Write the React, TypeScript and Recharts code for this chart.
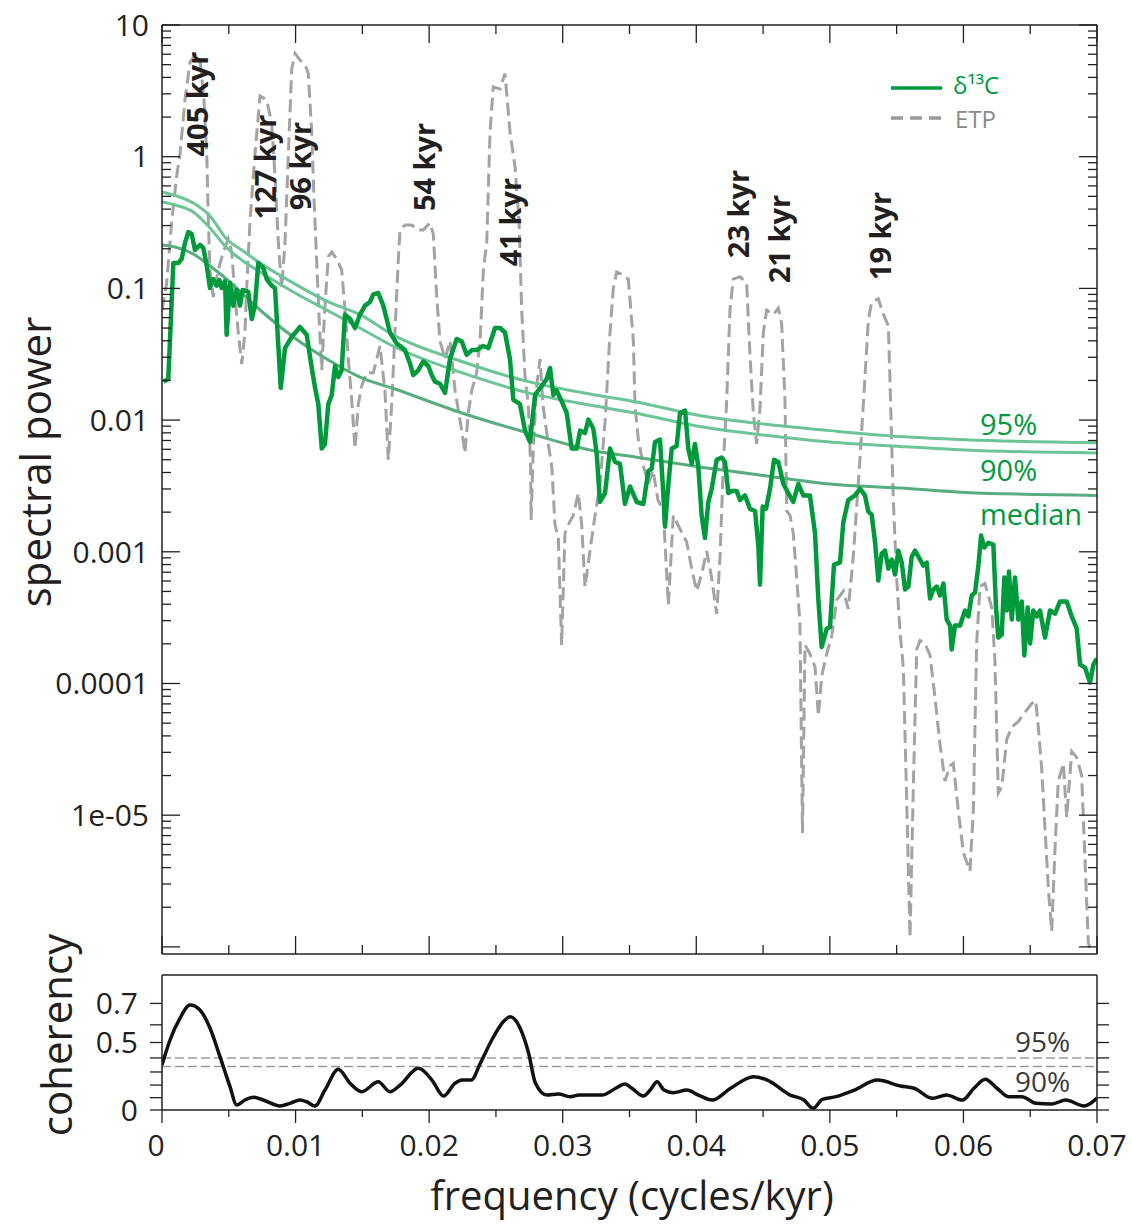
import { LineChart, Line, XAxis, YAxis, ReferenceLine, ReferenceDot } from 'recharts'

const INK = '#231f20'
const GREEN = '#009a3d'
const BAND = '#6cc497'
const BAND_MEDIAN = '#58ad80'
const ETP_GREY = '#a3a3a3'
const FONT = "'Open Sans', 'Noto Sans', sans-serif"

// [frequency (cycles/kyr), log10 spectral power]
const d13cSpectrum: [number, number][] = [
    [0.0001, -1.708], [0.00047, -1.688], [0.00085, -0.807], [0.00122, -0.807], [0.00147, -0.777],
    [0.00172, -0.655], [0.00197, -0.572], [0.00222, -0.587], [0.00247, -0.708], [0.00285, -0.67],
    [0.00309, -0.693], [0.00335, -0.826], [0.00359, -0.997], [0.00384, -0.929], [0.0041, -0.979],
    [0.00429, -0.936], [0.00447, -0.997], [0.00472, -0.944], [0.00484, -1.352], [0.00509, -0.959],
    [0.00534, -1.131], [0.00559, -1.012], [0.00584, -1.131], [0.00604, -1.012], [0.00646, -1.027],
    [0.00672, -1.232], [0.00696, -1.131], [0.00721, -0.807], [0.00758, -0.844], [0.00784, -0.929],
    [0.00821, -0.979], [0.00846, -0.997], [0.00871, -1.437], [0.00889, -1.756], [0.00921, -1.453],
    [0.00971, -1.369], [0.01033, -1.293], [0.01083, -1.352], [0.01121, -1.604], [0.01146, -1.756],
    [0.0117, -1.878], [0.01196, -2.216], [0.0122, -2.181], [0.01245, -1.878], [0.01271, -1.809],
    [0.01295, -1.589], [0.0132, -1.673], [0.01345, -1.62], [0.0137, -1.199], [0.01408, -1.232],
    [0.01445, -1.301], [0.01482, -1.199], [0.0152, -1.131], [0.01557, -1.103], [0.01582, -1.046],
    [0.01619, -1.035], [0.01657, -1.131], [0.01707, -1.335], [0.01757, -1.42], [0.01782, -1.437],
    [0.01819, -1.468], [0.01857, -1.572], [0.01881, -1.658], [0.01919, -1.62], [0.01956, -1.555],
    [0.01994, -1.589], [0.02019, -1.658], [0.02044, -1.708], [0.02081, -1.724], [0.02119, -1.793],
    [0.02156, -1.536], [0.02206, -1.384], [0.02244, -1.402], [0.02281, -1.504], [0.02319, -1.468],
    [0.02356, -1.468], [0.02406, -1.437], [0.02443, -1.453], [0.02493, -1.301], [0.02531, -1.301],
    [0.02568, -1.335], [0.02605, -1.536], [0.0263, -1.844], [0.0268, -1.878], [0.02718, -2.08],
    [0.02755, -2.166], [0.02793, -1.809], [0.02843, -1.741], [0.0288, -1.688], [0.02905, -1.604],
    [0.0293, -1.809], [0.02955, -1.775], [0.02993, -1.86], [0.0303, -1.946], [0.03067, -2.216],
    [0.03105, -2.216], [0.0313, -2.08], [0.03167, -2.098], [0.03192, -1.996], [0.03229, -2.064],
    [0.03254, -2.25], [0.03279, -2.622], [0.03317, -2.554], [0.03354, -2.216], [0.03392, -2.318],
    [0.03429, -2.333], [0.03466, -2.637], [0.03504, -2.504], [0.03554, -2.622], [0.03604, -2.637],
    [0.03641, -2.387], [0.03666, -2.369], [0.03691, -2.166], [0.03728, -2.148], [0.03753, -2.554],
    [0.03766, -2.809], [0.03791, -2.485], [0.03816, -2.216], [0.03853, -2.197], [0.03878, -1.946],
    [0.03916, -1.928], [0.0394, -2.216], [0.03966, -2.333], [0.0399, -2.181], [0.04015, -2.352],
    [0.0404, -2.724], [0.04065, -2.895], [0.0409, -2.622], [0.04115, -2.523], [0.04153, -2.301],
    [0.0419, -2.284], [0.04215, -2.318], [0.0424, -2.554], [0.04265, -2.538], [0.04303, -2.538],
    [0.04327, -2.607], [0.04365, -2.572], [0.04402, -2.674], [0.0444, -2.69], [0.04465, -2.962],
    [0.04477, -3.25], [0.04497, -2.657], [0.04522, -2.674], [0.04552, -2.521], [0.04582, -2.301],
    [0.04614, -2.318], [0.04652, -2.485], [0.04689, -2.554], [0.04726, -2.622], [0.04764, -2.485],
    [0.04801, -2.572], [0.04851, -2.572], [0.04889, -2.86], [0.04914, -3.366], [0.04939, -3.723],
    [0.04976, -3.586], [0.05001, -3.571], [0.05031, -3.097], [0.05076, -3.08], [0.05101, -2.774],
    [0.05138, -2.607], [0.05188, -2.572], [0.05226, -2.521], [0.05263, -2.572], [0.05288, -2.695],
    [0.05313, -2.718], [0.05338, -2.923], [0.05363, -3.218], [0.05388, -3.014], [0.05413, -2.991],
    [0.05438, -3.128], [0.05463, -3.059], [0.05488, -3.173], [0.05513, -2.991], [0.05538, -3.082],
    [0.05563, -3.286], [0.05588, -3.264], [0.05613, -3.036], [0.05638, -2.991], [0.05663, -3.036],
    [0.057, -3.105], [0.05725, -3.082], [0.0575, -3.355], [0.05775, -3.286], [0.058, -3.264],
    [0.05825, -3.332], [0.0585, -3.241], [0.05875, -3.514], [0.059, -3.56], [0.05912, -3.742],
    [0.05937, -3.56], [0.05975, -3.56], [0.06012, -3.446], [0.06037, -3.491], [0.06062, -3.332],
    [0.06087, -3.309], [0.06112, -3.105], [0.06132, -2.877], [0.06156, -2.968], [0.06186, -2.932],
    [0.06224, -2.945], [0.06244, -3.423], [0.06261, -3.651], [0.06287, -3.628], [0.06306, -3.195],
    [0.06324, -3.446], [0.06341, -3.15], [0.06362, -3.514], [0.06386, -3.195], [0.06411, -3.514],
    [0.06437, -3.377], [0.06456, -3.787], [0.06481, -3.423], [0.06499, -3.696], [0.06523, -3.446],
    [0.06549, -3.491], [0.06573, -3.446], [0.06611, -3.651], [0.06648, -3.446], [0.06686, -3.469],
    [0.06723, -3.377], [0.06773, -3.377], [0.06811, -3.491], [0.06848, -3.582], [0.06873, -3.856],
    [0.0691, -3.879], [0.06948, -3.992], [0.06973, -3.856], [0.06998, -3.81]
]

const etpSpectrum: [number, number][] = [
    [0, -1.164], [0.00035, -0.959], [0.00073, -0.488], [0.0011, -0.147], [0.00135, 0.02],
    [0.00172, 0.431], [0.0021, 0.719], [0.00247, 0.772], [0.00285, 0.734], [0.00314, 0.431],
    [0.00335, 0.02], [0.00347, -0.488], [0.00359, -0.86], [0.00384, -1.065], [0.00421, -0.86],
    [0.00459, -0.724], [0.00496, -0.625], [0.00522, -0.724], [0.00547, -1.065], [0.00571, -1.335],
    [0.00597, -1.574], [0.00621, -1.335], [0.00634, -0.997], [0.00659, -0.488], [0.00696, 0.02],
    [0.00734, 0.461], [0.00784, 0.431], [0.00821, 0.256], [0.00846, -0.147], [0.00871, -0.655],
    [0.00896, -0.997], [0.00921, -0.655], [0.00946, 0.02], [0.00971, 0.666], [0.00996, 0.784],
    [0.01033, 0.734], [0.01071, 0.699], [0.01095, 0.631], [0.01121, 0.191], [0.01138, -0.318],
    [0.01158, -0.792], [0.01178, -1.267], [0.01196, -1.62], [0.0122, -1.134], [0.01245, -0.759],
    [0.01271, -0.724], [0.01308, -0.777], [0.01345, -0.86], [0.0137, -1.164], [0.01395, -1.536],
    [0.0142, -1.844], [0.01445, -2.216], [0.0147, -1.878], [0.01495, -1.741], [0.01533, -1.64],
    [0.01582, -1.64], [0.01632, -1.437], [0.01669, -1.775], [0.01694, -2.301], [0.0172, -1.878],
    [0.01744, -1.335], [0.01769, -0.784], [0.01782, -0.557], [0.01819, -0.519], [0.01869, -0.519],
    [0.01919, -0.557], [0.01956, -0.557], [0.02006, -0.503], [0.02031, -0.587], [0.02057, -1.065],
    [0.02081, -1.399], [0.02119, -1.536], [0.02156, -1.399], [0.02194, -1.775], [0.02244, -2.08],
    [0.02268, -2.25], [0.02293, -1.946], [0.02319, -1.775], [0.02356, -1.64], [0.02381, -1.399],
    [0.02406, -0.86], [0.02431, -0.655], [0.02456, 0.191], [0.0248, 0.529], [0.0253, 0.514],
    [0.02568, 0.631], [0.02605, 0.191], [0.02643, -0.078], [0.02673, -0.488], [0.02693, -1.164],
    [0.02718, -1.673], [0.02742, -1.878], [0.0276, -2.349], [0.02763, -2.759], [0.0278, -2.216],
    [0.02805, -1.741], [0.0283, -1.536], [0.02855, -1.908], [0.02892, -2.181], [0.02918, -2.349],
    [0.02942, -2.793], [0.02967, -2.895], [0.02992, -3.708], [0.03017, -2.857], [0.03042, -2.793],
    [0.03079, -2.724], [0.03117, -2.554], [0.03142, -2.793], [0.03167, -3.267], [0.03204, -2.994],
    [0.03242, -2.724], [0.03279, -2.485], [0.03317, -2.014], [0.03354, -1.335], [0.03379, -0.997],
    [0.03404, -0.875], [0.03442, -0.894], [0.03491, -0.929], [0.03529, -1.399], [0.03541, -1.878],
    [0.03566, -2.148], [0.03604, -2.349], [0.03641, -2.485], [0.03676, -2.379], [0.03713, -2.607],
    [0.03753, -2.69], [0.03791, -3.404], [0.03828, -2.724], [0.03878, -2.827], [0.03928, -2.926],
    [0.03966, -3.131], [0.04003, -3.298], [0.04041, -3.166], [0.04078, -2.994], [0.04115, -3.199],
    [0.04153, -3.472], [0.04178, -3.03], [0.04202, -2.349], [0.04228, -1.844], [0.04252, -1.164],
    [0.04277, -0.929], [0.04327, -0.911], [0.04377, -0.959], [0.04402, -1.506], [0.04427, -1.946],
    [0.04452, -2.181], [0.04477, -1.908], [0.04502, -1.335], [0.04527, -1.164], [0.04577, -1.199],
    [0.04614, -1.149], [0.04639, -1.267], [0.04664, -1.844], [0.04677, -2.69], [0.04702, -2.724],
    [0.04726, -2.86], [0.04752, -3.199], [0.04776, -3.541], [0.04795, -5.135], [0.04814, -3.708],
    [0.04851, -3.776], [0.04889, -3.875], [0.04914, -4.247], [0.04939, -3.943], [0.04976, -3.776],
    [0.05014, -3.639], [0.05051, -3.366], [0.05101, -3.298], [0.05138, -3.434], [0.05176, -3.03],
    [0.05226, -2.284], [0.05263, -1.673], [0.05288, -1.24], [0.05313, -1.103], [0.05363, -1.08],
    [0.054, -1.194], [0.05438, -1.285], [0.0545, -1.696], [0.05475, -2.607], [0.055, -3.196],
    [0.05525, -3.605], [0.0555, -3.879], [0.05575, -4.877], [0.056, -5.925], [0.05625, -4.786],
    [0.0565, -3.742], [0.05675, -3.673], [0.05712, -3.696], [0.0575, -3.787], [0.05787, -4.106],
    [0.05825, -4.467], [0.05862, -4.74], [0.059, -4.626], [0.05924, -4.607], [0.05962, -4.968],
    [0.06, -5.287], [0.06049, -5.424], [0.06074, -4.968], [0.06099, -3.696], [0.06124, -3.264],
    [0.06161, -3.241], [0.06212, -3.423], [0.06236, -3.833], [0.06261, -4.831], [0.06287, -4.786],
    [0.06324, -4.424], [0.06361, -4.333], [0.06411, -4.288], [0.06461, -4.219], [0.06511, -4.152],
    [0.06541, -4.129], [0.06561, -4.333], [0.06586, -4.652], [0.06611, -5.105], [0.06636, -5.56],
    [0.06661, -5.879], [0.06686, -5.244], [0.0671, -4.743], [0.06748, -4.607], [0.06773, -5.017],
    [0.06811, -4.516], [0.06848, -4.561], [0.06885, -4.698], [0.0691, -5.335], [0.06935, -5.97],
    [0.0696, -6.046]
]

const band95: [number, number][] = [
    [0, -0.268], [0.00097, -0.295], [0.00234, -0.352], [0.00359, -0.45], [0.00484, -0.625],
    [0.00607, -0.716], [0.00734, -0.807], [0.00983, -0.959], [0.01233, -1.096], [0.01482, -1.199],
    [0.01744, -1.361], [0.02244, -1.555], [0.02742, -1.708], [0.03242, -1.809], [0.03541, -1.86],
    [0.04003, -1.961], [0.04502, -2.03], [0.05001, -2.08], [0.05525, -2.125], [0.06012, -2.149],
    [0.07, -2.172]
]

const band90: [number, number][] = [
    [0, -0.344], [0.00097, -0.367], [0.00234, -0.42], [0.00359, -0.541], [0.00484, -0.691],
    [0.00607, -0.792], [0.00734, -0.875], [0.00983, -1.027], [0.01233, -1.164], [0.01482, -1.301],
    [0.01744, -1.445], [0.02244, -1.64], [0.02742, -1.793], [0.03242, -1.893], [0.03541, -1.946],
    [0.04003, -2.045], [0.04502, -2.113], [0.05001, -2.166], [0.05525, -2.2], [0.06012, -2.227],
    [0.07, -2.25]
]

const bandMedian: [number, number][] = [
    [0, -0.67], [0.00097, -0.686], [0.00234, -0.739], [0.00359, -0.83], [0.00484, -0.929],
    [0.00734, -1.164], [0.00983, -1.369], [0.01233, -1.536], [0.01482, -1.673], [0.01744, -1.764],
    [0.02244, -1.946], [0.02742, -2.098], [0.03242, -2.235], [0.03541, -2.28], [0.04003, -2.352],
    [0.04502, -2.42], [0.05001, -2.485], [0.05525, -2.516], [0.06012, -2.549], [0.07, -2.572]
]

// [frequency, coherency]
const coherency: [number, number][] = [
    [0, 0.35], [0.0006, 0.515], [0.00135, 0.634], [0.0021, 0.693], [0.00284, 0.672],
    [0.00359, 0.583], [0.00434, 0.409], [0.00509, 0.188], [0.00559, 0.041], [0.00621, 0.081],
    [0.00684, 0.103], [0.00758, 0.081], [0.00883, 0.033], [0.00958, 0.054], [0.01033, 0.081],
    [0.01083, 0.067], [0.01145, 0.033], [0.0122, 0.161], [0.0132, 0.32], [0.01408, 0.214],
    [0.01495, 0.148], [0.01619, 0.226], [0.01707, 0.148], [0.01782, 0.2], [0.0192, 0.327],
    [0.02021, 0.239], [0.02108, 0.113], [0.02194, 0.214], [0.02246, 0.239], [0.02315, 0.239],
    [0.02383, 0.363], [0.02469, 0.515], [0.02555, 0.616], [0.02607, 0.64], [0.02676, 0.59],
    [0.02745, 0.431], [0.02796, 0.214], [0.02882, 0.121], [0.02968, 0.129], [0.03055, 0.108],
    [0.03122, 0.121], [0.03294, 0.121], [0.03397, 0.175], [0.03466, 0.209], [0.03518, 0.175],
    [0.03603, 0.113], [0.03655, 0.161], [0.03707, 0.226], [0.03758, 0.161], [0.03827, 0.14],
    [0.0393, 0.161], [0.04016, 0.121], [0.04119, 0.081], [0.04257, 0.175], [0.04428, 0.265],
    [0.04532, 0.239], [0.04704, 0.121], [0.04806, 0.081], [0.04875, 0.014], [0.04944, 0.087],
    [0.05047, 0.108], [0.05184, 0.161], [0.05357, 0.239], [0.05529, 0.193], [0.05631, 0.175],
    [0.05769, 0.095], [0.05873, 0.121], [0.05993, 0.081], [0.06079, 0.175], [0.06164, 0.245],
    [0.06251, 0.175], [0.06337, 0.108], [0.06439, 0.108], [0.06543, 0.054], [0.06663, 0.049],
    [0.06766, 0.081], [0.06903, 0.033], [0.07, 0.097]
]

const cohSignificance = [0.4, 0.34]

const peakNotes = [
    { text: '405 kyr', f: 0.00255, p: 2.51 },
    { text: '127 kyr', f: 0.00764, p: 0.836 },
    { text: '96 kyr', f: 0.01033, p: 0.849 },
    { text: '54 kyr', f: 0.01961, p: 0.836 },
    { text: '41 kyr', f: 0.02598, p: 0.319 },
    { text: '23 kyr', f: 0.04312, p: 0.367 },
    { text: '21 kyr', f: 0.04612, p: 0.237 },
    { text: '19 kyr', f: 0.05368, p: 0.25 }
]

const bandNotes = [
    { text: '95%', f: 0.06124, p: 0.0077 },
    { text: '90%', f: 0.06124, p: 0.00345 },
    { text: 'median', f: 0.06124, p: 0.0016 }
]

const cohNotes = [
    { text: '95%', f: 0.06386, c: 0.44 },
    { text: '90%', f: 0.06386, c: 0.145 }
]

const FREQ_TICKS = [0, 0.005, 0.01, 0.015, 0.02, 0.025, 0.03, 0.035, 0.04, 0.045, 0.05, 0.055, 0.06, 0.065, 0.07]
const FREQ_LABELS = ['0', '', '0.01', '', '0.02', '', '0.03', '', '0.04', '', '0.05', '', '0.06', '', '0.07']

const POWER_MAJOR = [1e-6, 1e-5, 1e-4, 1e-3, 1e-2, 1e-1, 1, 10]
const POWER_LABELS = ['', '1e-05', '0.0001', '0.001', '0.01', '0.1', '1', '10']
const POWER_MINOR = [-6, -5, -4, -3, -2, -1, 0].flatMap(e => [2, 3, 4, 5, 6, 7, 8, 9].map(m => m * 10 ** e))
const POWER_TICKS = [...POWER_MAJOR, ...POWER_MINOR].sort((a, b) => a - b)
const POWER_DOMAIN = [8.83e-7, 10]

const COH_TICKS = [0, 0.1, 0.2, 0.3, 0.4, 0.5, 0.6, 0.7]
const COH_LABELS = ['0', '', '', '', '', '0.5', '', '0.7']
const COH_TOP = 0.8

const toPower = (rows: [number, number][]) => rows.map(([f, lp]) => ({ f, p: 10 ** lp }))

const d13cData = toPower(d13cSpectrum)
const etpData = toPower(etpSpectrum)
const b95Data = toPower(band95)
const b90Data = toPower(band90)
const bMedData = toPower(bandMedian)
const cohData = coherency.map(([f, c]) => ({ f, z: Math.atanh(c) }))

const isMajorFreq = (v: number) => FREQ_TICKS.indexOf(v) % 2 === 0

function FreqTickInward(props: any) {
    const { x, y, payload, dir } = props
    const len = isMajorFreq(payload.value) ? 18 : 9
    return <line x1={x} y1={y} x2={x} y2={y + dir * len} stroke={INK} strokeWidth={1.3} />
}

function PowerTick(props: any) {
    const { x, y, payload, side } = props
    const i = POWER_MAJOR.indexOf(payload.value)
    const len = i >= 0 ? 18 : 9
    return (
        <g>
            <line x1={x} y1={y} x2={x + side * len} y2={y} stroke={INK} strokeWidth={1.3} />
            {side > 0 && i >= 0 && POWER_LABELS[i] && (
                <text x={x - 13} y={y} dy="0.36em" textAnchor="end" fontSize={30} fill={INK} fontFamily={FONT}>
                    {POWER_LABELS[i]}
                </text>
            )}
        </g>
    )
}

function CohTick(props: any) {
    const { x, y, payload, side } = props
    const i = COH_TICKS.findIndex(c => Math.abs(Math.atanh(c) - payload.value) < 1e-9)
    return (
        <g>
            <line x1={x} y1={y} x2={x + side * 12} y2={y} stroke={INK} strokeWidth={1.3} />
            {side < 0 && i >= 0 && COH_LABELS[i] && (
                <text x={x - 24} y={y} dy="0.36em" textAnchor="end" fontSize={30} fill={INK} fontFamily={FONT}>
                    {COH_LABELS[i]}
                </text>
            )}
        </g>
    )
}

function FreqTickOutward(props: any) {
    const { x, y, payload } = props
    const i = FREQ_TICKS.indexOf(payload.value)
    const major = i % 2 === 0
    return (
        <g>
            <line x1={x} y1={y} x2={x} y2={y + (major ? 13 : 7)} stroke={INK} strokeWidth={1.3} />
            {major && (
                <text x={i === 0 ? x - 6 : x} y={y + 46} textAnchor="middle" fontSize={30} fill={INK} fontFamily={FONT}>
                    {FREQ_LABELS[i]}
                </text>
            )}
        </g>
    )
}

const axisLine = { stroke: INK, strokeWidth: 1.5 }

function SpectrumPanel() {
    return (
        <LineChart width={1132} height={965} margin={{ top: 20, right: 15, bottom: 6, left: 62 }}>
            <XAxis xAxisId="main" type="number" dataKey="f" domain={[0, 0.07]} allowDataOverflow
                ticks={FREQ_TICKS} interval={0} height={5} tickSize={0} tickMargin={0} tickLine={false}
                axisLine={axisLine} tick={<FreqTickInward dir={-1} />} />
            <XAxis xAxisId="top" orientation="top" type="number" dataKey="f" domain={[0, 0.07]} allowDataOverflow
                ticks={FREQ_TICKS} interval={0} height={5} tickSize={0} tickMargin={0} tickLine={false}
                axisLine={axisLine} tick={<FreqTickInward dir={1} />} />
            <YAxis yAxisId="left" scale="log" type="number" domain={POWER_DOMAIN} allowDataOverflow
                ticks={POWER_TICKS} interval={0} width={100} tickSize={0} tickMargin={0} tickLine={false}
                axisLine={axisLine} tick={<PowerTick side={1} />} />
            <YAxis yAxisId="right" orientation="right" scale="log" type="number" domain={POWER_DOMAIN} allowDataOverflow
                ticks={POWER_TICKS} interval={0} width={20} tickSize={0} tickMargin={0} tickLine={false}
                axisLine={axisLine} tick={<PowerTick side={-1} />} />

            <Line xAxisId="main" yAxisId="left" data={etpData} dataKey="p" type="linear" stroke={ETP_GREY}
                strokeWidth={3} strokeDasharray="13 6" dot={false} activeDot={false} isAnimationActive={false} />
            <Line xAxisId="main" yAxisId="left" data={b95Data} dataKey="p" type="monotone" stroke={BAND}
                strokeWidth={3} dot={false} activeDot={false} isAnimationActive={false} />
            <Line xAxisId="main" yAxisId="left" data={b90Data} dataKey="p" type="monotone" stroke={BAND}
                strokeWidth={3} dot={false} activeDot={false} isAnimationActive={false} />
            <Line xAxisId="main" yAxisId="left" data={bMedData} dataKey="p" type="monotone" stroke={BAND_MEDIAN}
                strokeWidth={3} dot={false} activeDot={false} isAnimationActive={false} />
            <Line xAxisId="main" yAxisId="left" data={d13cData} dataKey="p" type="linear" stroke={GREEN}
                strokeWidth={4.5} strokeLinejoin="round" dot={false} activeDot={false} isAnimationActive={false} />

            {peakNotes.map(n => (
                <ReferenceDot key={n.text} xAxisId="main" yAxisId="left" x={n.f} y={n.p} r={0}
                    shape={(s: any) => (
                        <text transform={`translate(${s.cx},${s.cy}) rotate(-90)`} textAnchor="middle"
                            dominantBaseline="central" fontSize={29} fontWeight={700} fill={INK} fontFamily={FONT}>
                            {n.text}
                        </text>
                    )} />
            ))}
            {bandNotes.map(n => (
                <ReferenceDot key={n.text} xAxisId="main" yAxisId="left" x={n.f} y={n.p} r={0}
                    shape={(s: any) => (
                        <text x={s.cx} y={s.cy} fontSize={29} fill={GREEN} fontFamily={FONT}>{n.text}</text>
                    )} />
            ))}
        </LineChart>
    )
}

function CoherencyPanel() {
    const zTop = Math.atanh(COH_TOP)
    const zTicks = COH_TICKS.map(c => Math.atanh(c))
    return (
        <LineChart width={1132} height={264} margin={{ top: 10, right: 15, bottom: 4, left: 62 }}>
            <XAxis xAxisId="cb" type="number" dataKey="f" domain={[0, 0.07]} allowDataOverflow
                ticks={FREQ_TICKS} interval={0} height={110} tickSize={0} tickMargin={0} tickLine={false}
                axisLine={axisLine} tick={<FreqTickOutward />} />
            <XAxis xAxisId="ct" orientation="top" type="number" domain={[0, 0.07]} allowDataOverflow
                height={5} tick={false} tickLine={false} axisLine={axisLine} />
            <YAxis yAxisId="cl" type="number" domain={[0, zTop]} allowDataOverflow ticks={zTicks} interval={0}
                width={100} tickSize={0} tickMargin={0} tickLine={false} axisLine={axisLine}
                tick={<CohTick side={-1} />} />
            <YAxis yAxisId="cr" orientation="right" type="number" domain={[0, zTop]} allowDataOverflow ticks={zTicks}
                interval={0} width={20} tickSize={0} tickMargin={0} tickLine={false} axisLine={axisLine}
                tick={<CohTick side={1} />} />

            {cohSignificance.map(c => (
                <ReferenceLine key={c} xAxisId="cb" yAxisId="cl" y={Math.atanh(c)} stroke="#9a9a9a"
                    strokeWidth={1.6} strokeDasharray="9 4" />
            ))}
            <Line xAxisId="cb" yAxisId="cl" data={cohData} dataKey="z" type="monotone" stroke="#111"
                strokeWidth={3.5} dot={false} activeDot={false} isAnimationActive={false} />
            {cohNotes.map(n => (
                <ReferenceDot key={n.text} xAxisId="cb" yAxisId="cl" x={n.f} y={Math.atanh(n.c)} r={0}
                    shape={(s: any) => (
                        <text x={s.cx} y={s.cy} fontSize={28} fill="#3a3a3a" fontFamily={FONT}>{n.text}</text>
                    )} />
            ))}
        </LineChart>
    )
}

function Overlay() {
    return (
        <svg width={1132} height={1224} style={{ position: 'absolute', left: 0, top: 0, pointerEvents: 'none' }}
            fontFamily={FONT}>
            <text transform="translate(51,462) rotate(-90)" textAnchor="middle" fontSize={42} fill={INK}>
                spectral power
            </text>
            <text transform="translate(72,1035) rotate(-90)" textAnchor="middle" fontSize={42} fill={INK}>
                coherency
            </text>
            <text x={632} y={1210} textAnchor="middle" fontSize={40} fill={INK}>
                frequency (cycles/kyr)
            </text>
            <line x1={891} y1={88} x2={942} y2={88} stroke={GREEN} strokeWidth={3.5} />
            <text x={953} y={94} fontSize={24} fill={GREEN}>δ¹³C</text>
            <line x1={891} y1={118} x2={942} y2={118} stroke="#999" strokeWidth={3.5} strokeDasharray="12 7" />
            <text x={955} y={128} fontSize={24} fill="#8a8a8a">ETP</text>
        </svg>
    )
}

export default function App() {
    return (
        <div style={{ position: 'absolute', left: 0, top: 0, width: 1132, height: 1224, background: '#fff', fontFamily: FONT }}>
            <div style={{ position: 'absolute', left: 0, top: 0 }}>
                <SpectrumPanel />
            </div>
            <div style={{ position: 'absolute', left: 0, top: 960 }}>
                <CoherencyPanel />
            </div>
            <Overlay />
        </div>
    )
}
